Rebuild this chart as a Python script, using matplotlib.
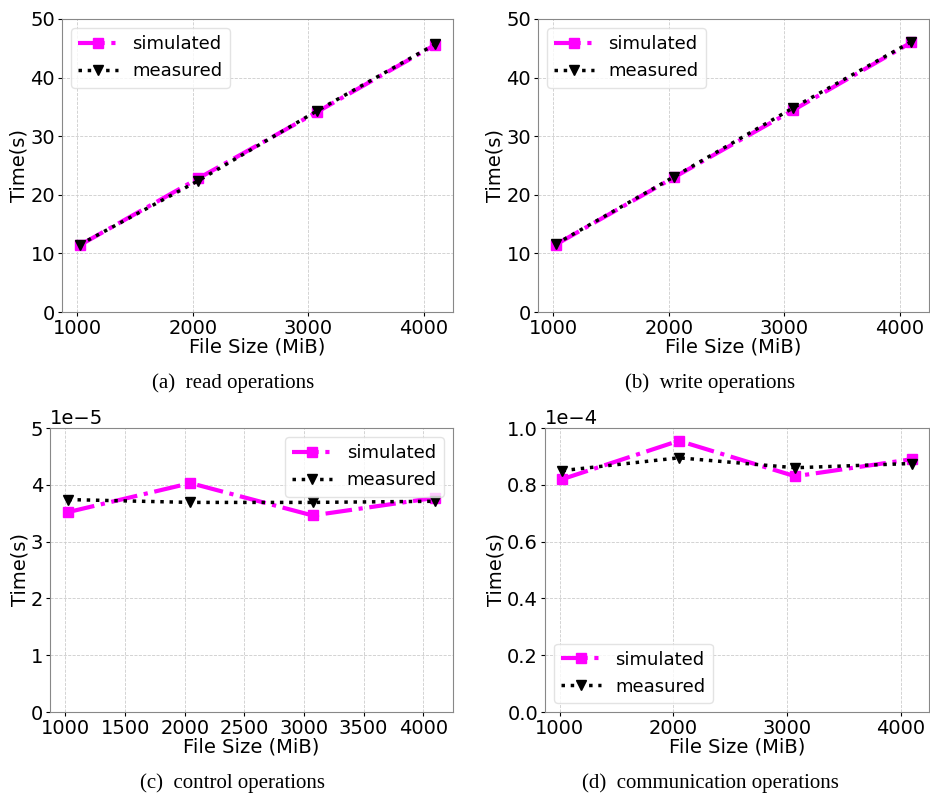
import matplotlib
matplotlib.use('Agg')
import matplotlib.pyplot as plt

sizes = [1024, 2048, 3072, 4096]

read_sim = [11.4, 22.8, 34.1, 45.6]
read_meas = [11.5, 22.4, 34.3, 45.7]
write_sim = [11.5, 23.0, 34.4, 46.0]
write_meas = [11.6, 23.1, 34.8, 46.1]
ctrl_sim = [3.52e-5, 4.03e-5, 3.46e-5, 3.77e-5]
ctrl_meas = [3.74e-5, 3.69e-5, 3.69e-5, 3.71e-5]
comm_sim = [0.82e-4, 0.955e-4, 0.83e-4, 0.89e-4]
comm_meas = [0.85e-4, 0.895e-4, 0.86e-4, 0.875e-4]

captions = ['(a)  read operations', '(b)  write operations',
            '(c)  control operations', '(d)  communication operations']
legend_locs = ['upper left', 'upper left', 'upper right', 'lower left']
ylims = [(0, 50), (0, 50), (0, 5e-5), (0, 1e-4)]
xticks = [[1000, 2000, 3000, 4000], [1000, 2000, 3000, 4000],
          [1000, 1500, 2000, 2500, 3000, 3500, 4000], [1000, 2000, 3000, 4000]]

panels = [(read_sim, read_meas), (write_sim, write_meas),
          (ctrl_sim, ctrl_meas), (comm_sim, comm_meas)]

# axes boxes in pixels: left, right, top, bottom
boxes = [(62, 453, 19, 312), (538, 929, 19, 312),
         (50, 453, 428, 712), (545, 929, 428, 712)]
cap_pos = [(233, 383), (710, 383), (232, 783), (710, 783)]

W, H = 930, 795
fig = plt.figure(figsize=(W / 100, H / 100), dpi=100)

for i, (sim, meas) in enumerate(panels):
    l, r, t, b = boxes[i]
    ax = fig.add_axes([l / W, 1 - b / H, (r - l) / W, (b - t) / H])
    ax.plot(sizes, sim, color='magenta', linestyle='-.', linewidth=3,
            marker='s', markersize=7.5, label='simulated')
    ax.plot(sizes, meas, color='black', linestyle=':', linewidth=2.5,
            marker='v', markersize=6.5, label='measured')
    ax.set_ylim(*ylims[i])
    ax.set_xticks(xticks[i])
    if i >= 2:
        ax.ticklabel_format(axis='y', style='sci', scilimits=(0, 0))
    ax.grid(True, linestyle='--', linewidth=0.6, color='#cccccc')
    ax.tick_params(labelsize=14, length=3, pad=2)
    ax.yaxis.get_offset_text().set_fontsize(14)
    for s in ax.spines.values():
        s.set_color('#888888')
    ax.set_xlabel('File Size (MiB)', fontsize=14, labelpad=0)
    ax.set_ylabel('Time(s)', fontsize=14, labelpad=1)
    ax.legend(loc=legend_locs[i], fontsize=13, handlelength=2.2,
              framealpha=0.8, edgecolor='#dddddd')
    cx, cy = cap_pos[i]
    fig.text(cx / W, 1 - cy / H, captions[i], ha='center', va='center',
             fontsize=15, family='Liberation Serif')

fig.savefig('out.png', dpi=100)
